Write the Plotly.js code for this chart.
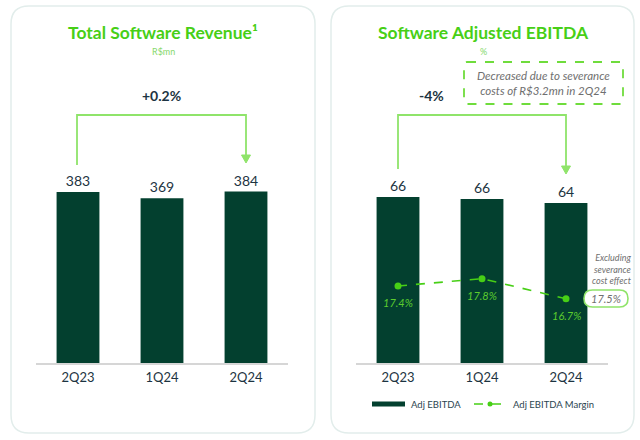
<!DOCTYPE html>
<html><head><meta charset="utf-8">
<script src="https://cdn.plot.ly/plotly-3.0.1.min.js"></script>
<style>html,body{margin:0;padding:0;background:#fff}#chart{width:640px;height:440px}</style>
</head><body><div id="chart"></div>
<script>
// ---- data ----
const categories = ['2Q23', '1Q24', '2Q24'];
const revenue = [383, 369, 384];
const ebitda = [66.4, 65.6, 64.0];
const ebitdaMargin = [17.4, 17.8, 16.7];
const revenueChange = '+0.2%';
const ebitdaChange = '-4%';
const marginExSeverance = '17.5%';

// ---- helpers (pixel -> paper) ----
const W = 640, H = 440;
const px = x => x / W;
const py = y => 1 - y / H;
function roundRect(x0, y0, x1, y1, r) {
  const X = v => px(v).toFixed(5), Y = v => py(v).toFixed(5);
  return `M${X(x0 + r)},${Y(y0)} L${X(x1 - r)},${Y(y0)} Q${X(x1)},${Y(y0)} ${X(x1)},${Y(y0 + r)} ` +
         `L${X(x1)},${Y(y1 - r)} Q${X(x1)},${Y(y1)} ${X(x1 - r)},${Y(y1)} L${X(x0 + r)},${Y(y1)} ` +
         `Q${X(x0)},${Y(y1)} ${X(x0)},${Y(y1 - r)} L${X(x0)},${Y(y0 + r)} Q${X(x0)},${Y(y0)} ${X(x0 + r)},${Y(y0)} Z`;
}

const FONT = 'Lato, "Open Sans", sans-serif';
const DARK_BAR = '#03402f';
const GREEN = '#47cf16';
const LIGHT_GREEN = '#8fe46a';
const TEXT_DARK = '#1d3442';
const GRAY = '#6f6f6f';

const yBottom = 363, yTop = 110;
const yDomain = [py(yBottom), py(yTop)];

const traces = [
  {
    type: 'bar', x: categories, y: revenue, xaxis: 'x', yaxis: 'y',
    marker: {color: DARK_BAR}, texttemplate: '%{y:.0f}', textposition: 'outside',
    textfont: {family: FONT, size: 14, color: TEXT_DARK}, cliponaxis: false,
    showlegend: false, hoverinfo: 'skip'
  },
  {
    type: 'bar', x: categories, y: ebitda, xaxis: 'x2', yaxis: 'y2', name: 'Adj EBITDA',
    marker: {color: DARK_BAR}, texttemplate: '%{y:.0f}', textposition: 'outside',
    textfont: {family: FONT, size: 14, color: TEXT_DARK}, cliponaxis: false,
    showlegend: false, hoverinfo: 'skip'
  },
  {
    type: 'scatter', x: categories, y: ebitdaMargin, xaxis: 'x2', yaxis: 'y3', name: 'Adj EBITDA Margin',
    mode: 'lines+markers', line: {color: GREEN, width: 1.6, dash: 'dash'},
    marker: {color: GREEN, size: 7}, cliponaxis: false,
    showlegend: false, hoverinfo: 'skip'
  }
];

const axisCommon = {
  type: 'category', showline: true, linecolor: '#d6d6d6', linewidth: 1.5,
  ticks: '', showgrid: false, zeroline: false, fixedrange: true,
  tickfont: {family: FONT, size: 13, color: TEXT_DARK}, ticklabelstandoff: 2
};

const shapes = [
  // cards
  {type: 'path', xref: 'paper', yref: 'paper', path: roundRect(11, 6, 315, 433, 18), line: {color: '#e2edeb', width: 1.5}, layer: 'below'},
  {type: 'path', xref: 'paper', yref: 'paper', path: roundRect(331, 6, 634, 433, 18), line: {color: '#e2edeb', width: 1.5}, layer: 'below'},
  // left bracket
  {type: 'path', xref: 'paper', yref: 'paper',
   path: `M${px(77)},${py(165)} L${px(77)},${py(115)} L${px(246)},${py(115)} L${px(246)},${py(156)}`,
   line: {color: LIGHT_GREEN, width: 1.8}},
  {type: 'path', xref: 'paper', yref: 'paper',
   path: `M${px(241.5)},${py(155)} L${px(250.5)},${py(155)} L${px(246)},${py(163)} Z`,
   fillcolor: LIGHT_GREEN, line: {color: LIGHT_GREEN, width: 1}},
  // right bracket
  {type: 'path', xref: 'paper', yref: 'paper',
   path: `M${px(398)},${py(169)} L${px(398)},${py(115)} L${px(566)},${py(115)} L${px(566)},${py(167)}`,
   line: {color: LIGHT_GREEN, width: 1.8}},
  {type: 'path', xref: 'paper', yref: 'paper',
   path: `M${px(561.5)},${py(166)} L${px(570.5)},${py(166)} L${px(566)},${py(174)} Z`,
   fillcolor: LIGHT_GREEN, line: {color: LIGHT_GREEN, width: 1}},
  // dashed note box
  {type: 'path', xref: 'paper', yref: 'paper', path: roundRect(464, 62, 623, 104, 3),
   line: {color: '#6fdc3c', width: 1.8, dash: 'dash'}},
  // 17.5% pill
  {type: 'path', xref: 'paper', yref: 'paper', path: roundRect(584, 290, 628, 307, 8.5),
   line: {color: LIGHT_GREEN, width: 1.6}, fillcolor: '#ffffff'},
  // custom legend
  {type: 'rect', xref: 'paper', yref: 'paper', x0: px(372), x1: px(405), y0: py(406.5), y1: py(401.5),
   fillcolor: DARK_BAR, line: {width: 0}},
  {type: 'line', xref: 'paper', yref: 'paper', x0: px(474), x1: px(506), y0: py(404), y1: py(404),
   line: {color: GREEN, width: 1.5, dash: 'dash'}},
  {type: 'circle', xref: 'paper', yref: 'paper', x0: px(487.5), x1: px(492.5), y0: py(406.5), y1: py(401.5),
   fillcolor: GREEN, line: {width: 0}}
];

const ann = (x, y, text, font, extra) => Object.assign({
  xref: 'paper', yref: 'paper', x: px(x), y: py(y), text, showarrow: false,
  xanchor: 'center', yanchor: 'middle', font: Object.assign({family: FONT}, font)
}, extra || {});

const annotations = [
  ann(163, 33, '<b>Total Software Revenue¹</b>', {size: 17.5, color: GREEN}),
  ann(163, 51, 'R$mn', {size: 9, color: '#86d86a'}),
  ann(483, 33, '<b>Software Adjusted EBITDA</b>', {size: 17.5, color: GREEN}),
  ann(483, 51, '%', {size: 9, color: '#86d86a'}),
  ann(161, 95, '<b>' + revenueChange + '</b>', {size: 14, color: TEXT_DARK}),
  ann(431, 95, '<b>' + ebitdaChange + '</b>', {size: 14, color: TEXT_DARK}),
  ann(543.5, 83, 'Decreased due to severance<br>costs of R$3.2mn in 2Q24', {size: 11.5, color: GRAY, style: 'italic'}),
  ann(612, 269, 'Excluding<br>severance<br>cost effect', {size: 9, color: GRAY, style: 'italic'}, {align: 'right', xanchor: 'center'}),
  ann(606, 298.5, marginExSeverance, {size: 11, color: GRAY, style: 'italic'}),
  ann(409, 404, 'Adj EBITDA', {size: 9.5, color: '#2b4450'}, {xanchor: 'left'}),
  ann(511, 404, 'Adj EBITDA Margin', {size: 9.5, color: '#2b4450'}, {xanchor: 'left'})
];
// margin value labels, placed under each point
categories.forEach((c, i) => {
  annotations.push({
    xref: 'x2', yref: 'y3', x: c, y: ebitdaMargin[i], yshift: -17, showarrow: false,
    text: ebitdaMargin[i].toFixed(1) + '%', xanchor: 'center', yanchor: 'middle',
    font: {family: FONT, size: 11, color: '#5ccc2e', style: 'italic'}
  });
});

const layout = {
  width: W, height: H, margin: {l: 0, r: 0, t: 0, b: 0},
  paper_bgcolor: '#ffffff', plot_bgcolor: 'rgba(0,0,0,0)',
  showlegend: false, bargap: 0.49, font: {family: FONT},
  xaxis: Object.assign({}, axisCommon, {domain: [px(36), px(288)], anchor: 'y'}),
  yaxis: {domain: yDomain, range: [0, 566.6], visible: false, fixedrange: true, anchor: 'x'},
  xaxis2: Object.assign({}, axisCommon, {domain: [px(356), px(608)], anchor: 'y2'}),
  yaxis2: {domain: yDomain, range: [0, 101.2], visible: false, fixedrange: true, anchor: 'x2'},
  yaxis3: {overlaying: 'y2', range: [13.19, 27.02], visible: false, fixedrange: true, anchor: 'x2'},
  shapes, annotations
};

Plotly.newPlot('chart', traces, layout, {displayModeBar: false, staticPlot: true});
</script></body></html>
